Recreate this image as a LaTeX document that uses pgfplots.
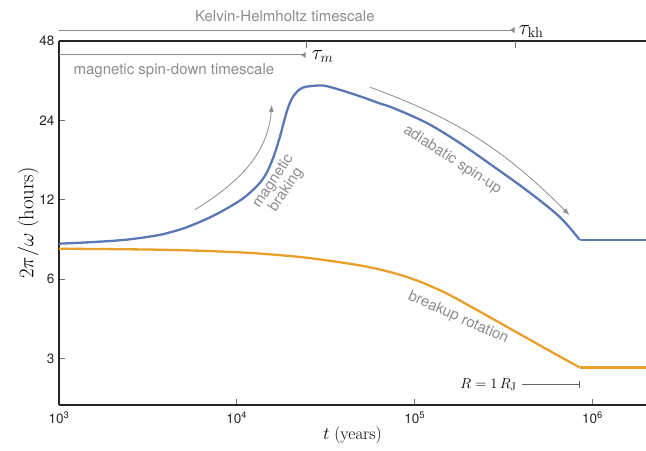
\documentclass[border=0pt]{standalone}
\usepackage[no-math]{fontspec}
\setmainfont{TeX Gyre Heros}
\usepackage{pgfplots}
\pgfplotsset{compat=1.18}
\usetikzlibrary{arrows.meta}
\definecolor{cblue}{HTML}{5A78B4}
\definecolor{corange}{HTML}{E8A02A}
\definecolor{agray}{HTML}{8C8C8C}
\begin{document}
\begin{tikzpicture}
\begin{axis}[
  scale only axis, width=587pt, height=364pt,
  xmode=log, ymode=log, log basis y=2,
  xmin=1000, xmax=2e6, ymin=2, ymax=48,
  axis lines=left,
  x axis line style={-}, y axis line style={-},
  axis line style={line width=1.4pt, black!85},
  xtick={1000,10000,100000,1000000},
  xticklabels={10\textsuperscript{3},10\textsuperscript{4},10\textsuperscript{5},10\textsuperscript{6}},
  ytick={3,6,12,24,48}, yticklabels={3,6,12,24,48},
  xminorticks=false, yminorticks=false,
  minor tick length=0pt,
  tick align=inside,
  major tick length=6pt,
  tick style={black!55, line width=0.7pt},
  ticklabel style={font=\fontsize{13.5}{15}\selectfont, text=black!85},
  xticklabel style={yshift=-3pt},
  yticklabel style={xshift=-1pt},
  xlabel={$t\ (\mathrm{years})$},
  ylabel={$2\pi/\omega\ (\mathrm{hours})$},
  xlabel style={font=\fontsize{17.5}{20}\selectfont, yshift=4pt},
  ylabel style={font=\fontsize{21.5}{24}\selectfont, yshift=-6pt},
  clip=false,
]
\draw[line width=1.4pt, black!85] (rel axis cs:0,1) -- (rel axis cs:1,1);
% blue
\addplot[cblue, line width=2.3pt, smooth, tension=0.55] coordinates {
(1000,8.177) (1532,8.291) (2379,8.467) (3646,8.821) (4786,9.254) (5588,9.608)
(6963,10.239) (8675,11.065) (10670,12.053) (12140,12.956) (13460,13.893) (14740,15.213)
(16140,17.563) (17440,20.71) (18370,23.61) (19340,26.62) (20640,29.43) (22590,31.48)
(24410,32.17) (26730,32.43) (30030,32.57) (33300,32.15) (41500,30.77) (52380,29.2)
(63600,27.83) (75220,26.80) (116800,23.48) (178900,19.73)
(274400,16.14) (425900,13.04) (652500,10.35) (845600,8.467)};
\addplot[cblue, line width=2.3pt] coordinates {(845600,8.467) (2e6,8.467)};
% orange
\addplot[corange, line width=2.3pt, smooth, tension=0.55] coordinates {
(1000,7.828) (1910,7.801) (3648,7.760) (6968,7.672) (13300,7.507) (25370,7.218)
(48420,6.779) (67760,6.461) (82350,6.237) (96140,6.029) (113800,5.774) (151300,5.297)
(203700,4.750) (300300,4.103) (442800,3.541) (611700,3.133) (845600,2.778)};
\addplot[corange, line width=2.3pt] coordinates {(845600,2.778) (2e6,2.778)};
% timescale markers
\draw[black!55, line width=0.8pt] (axis cs:24700,48) -- ++(0pt,-7pt);
\draw[black!55, line width=0.8pt] (axis cs:369000,48) -- ++(0pt,-7pt);
\draw[agray, line width=1pt, -{Latex[reversed,length=5pt,width=7pt]}] (axis cs:1000,52.8) -- (axis cs:365000,52.8);
\node[anchor=west, inner sep=1pt, font=\fontsize{21}{24}\selectfont] at (axis cs:380000,52.0) {$\tau_{\mathrm{kh}}$};
\node[agray, font=\fontsize{15}{17}\selectfont] at (axis cs:18620,59.7) {Kelvin-Helmholtz timescale};
\draw[agray, line width=1pt, -{Latex[reversed,length=5pt,width=7pt]}] (axis cs:1000,42.5) -- (axis cs:24400,42.5);
\node[anchor=west, inner sep=1pt, font=\fontsize{21}{24}\selectfont] at (axis cs:26000,42.0) {$\tau_{m}$};
\node[agray, font=\fontsize{15}{17}\selectfont] at (axis cs:4426,37.0) {magnetic spin-down timescale};
% process arrows
\draw[agray, line width=0.8pt, -{Latex[length=7pt,width=5pt]}] (axis cs:5810,11.0) to[out=32,in=-95] (axis cs:15740,27.5);
\node[agray, rotate=56, align=center, font=\fontsize{15}{15.5}\selectfont] at (axis cs:17440,13.56) {magnetic\\braking};
\draw[agray, line width=0.8pt, -{Latex[length=7pt,width=5pt]}] (axis cs:55800,32.1) to[out=-20,in=135] (axis cs:743000,10.5);
\node[agray, rotate=-33, font=\fontsize{15}{17}\selectfont] at (axis cs:163000,17.0) {adiabatic spin-up};
\node[agray, rotate=-24, font=\fontsize{15}{17}\selectfont] at (axis cs:176000,4.28) {breakup rotation};
% radius marker
\node[anchor=east, font=\fontsize{15}{17}\selectfont] at (axis cs:392000,2.39) {$R=1\,R_{\mathrm{J}}$};
\draw[black!60, line width=0.9pt, -{Bar[width=7pt]}] (axis cs:400000,2.39) -- (axis cs:846000,2.39);
\end{axis}
\pgfresetboundingbox
\path[use as bounding box] ([shift={(-59pt,-46pt)}]current axis.south west) rectangle ([shift={(0pt,41pt)}]current axis.north east);
\end{tikzpicture}
\end{document}
